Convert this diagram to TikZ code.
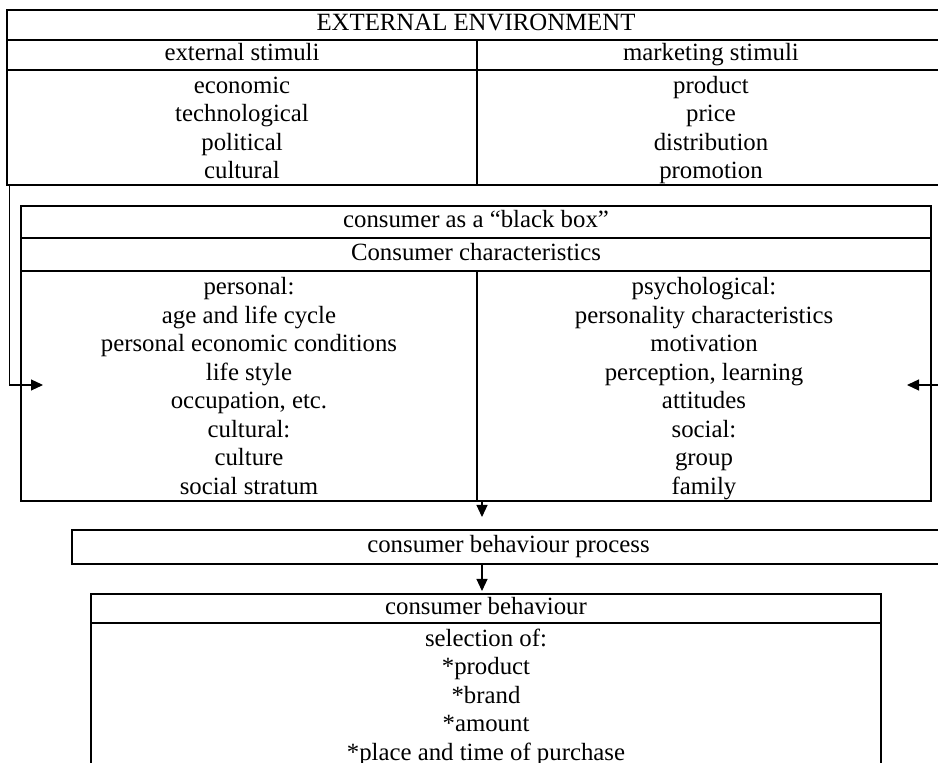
\documentclass[tikz,border=0pt]{standalone}
\usepackage{fontspec}
\setmainfont{Liberation Serif}
\usetikzlibrary{arrows.meta,positioning}
\newcommand\tallstrut{\rule[-2.75pt]{0pt}{14.25pt}}
\tikzset{cell/.style={draw,line width=0.6pt,inner sep=0pt,align=flush center,
  font=\fontsize{12.4}{14.25}\selectfont,execute at begin node=\strut},
  list/.style={cell,execute at begin node=\tallstrut,execute at end node=\tallstrut},
  link/.style={-{Triangle[length=6pt,width=5.5pt]},line width=0.6pt}}
\begin{document}
\begin{tikzpicture}[x=0.5pt,y=-0.5pt]
\useasboundingbox (0,0) rectangle (938,763);
\clip (0,0) rectangle (938,763);
\node[cell,text width=469pt,minimum height=15pt] (env) at (476,25) {EXTERNAL ENVIRONMENT};
\node[cell,text width=235pt,minimum height=15pt] (exs) at (242,55) {external stimuli};
\node[cell,text width=234pt,minimum height=15pt] (mks) at (711,55) {marketing stimuli};
\node[list,text width=235pt,minimum height=57.5pt] (exl) at (242,127.5)
  {economic\\technological\\political\\cultural};
\node[list,text width=234pt,minimum height=57.5pt] (mkl) at (711,127.5)
  {product\\price\\distribution\\promotion};
\node[cell,text width=455pt,minimum height=16pt] (bbox) at (476,222) {consumer as a “black box”};
\node[cell,text width=455pt,minimum height=16.5pt] (chr) at (476,254.5) {Consumer characteristics};
\node[list,text width=228pt,minimum height=115pt] (per) at (249,386)
  {personal:\\age and life cycle\\personal economic conditions\\life style\\occupation, etc.\\cultural:\\culture\\social stratum};
\node[list,text width=227pt,minimum height=115pt] (psy) at (704,386)
  {psychological:\\personality characteristics\\motivation\\perception, learning\\attitudes\\social:\\group\\family};
\node[cell,text width=436.5pt,minimum height=17pt] (proc) at (508.5,547) {consumer behaviour process};
\node[cell,text width=395pt,minimum height=14.5pt] (beh) at (486,608.5) {consumer behaviour};
\node[list,text width=395pt,minimum height=72.25pt] (sel) at (486,694.5)
  {selection of:\\{}*product\\{}*brand\\{}*amount\\{}*place and time of purchase};
\coordinate (lin) at (43,385);
\coordinate (rin) at (907,385);
\coordinate (t1) at (482,517);
\coordinate (t2) at (482,591);
\draw[link] ([xshift=1.5pt]exl.south west) |- (lin);
\draw[link] ([xshift=-1.5pt]mkl.south east) |- (rin);
\draw[link] (per.south -| t1) -- (t1);
\draw[link] (proc.south -| t2) -- (t2);
\end{tikzpicture}
\end{document}
